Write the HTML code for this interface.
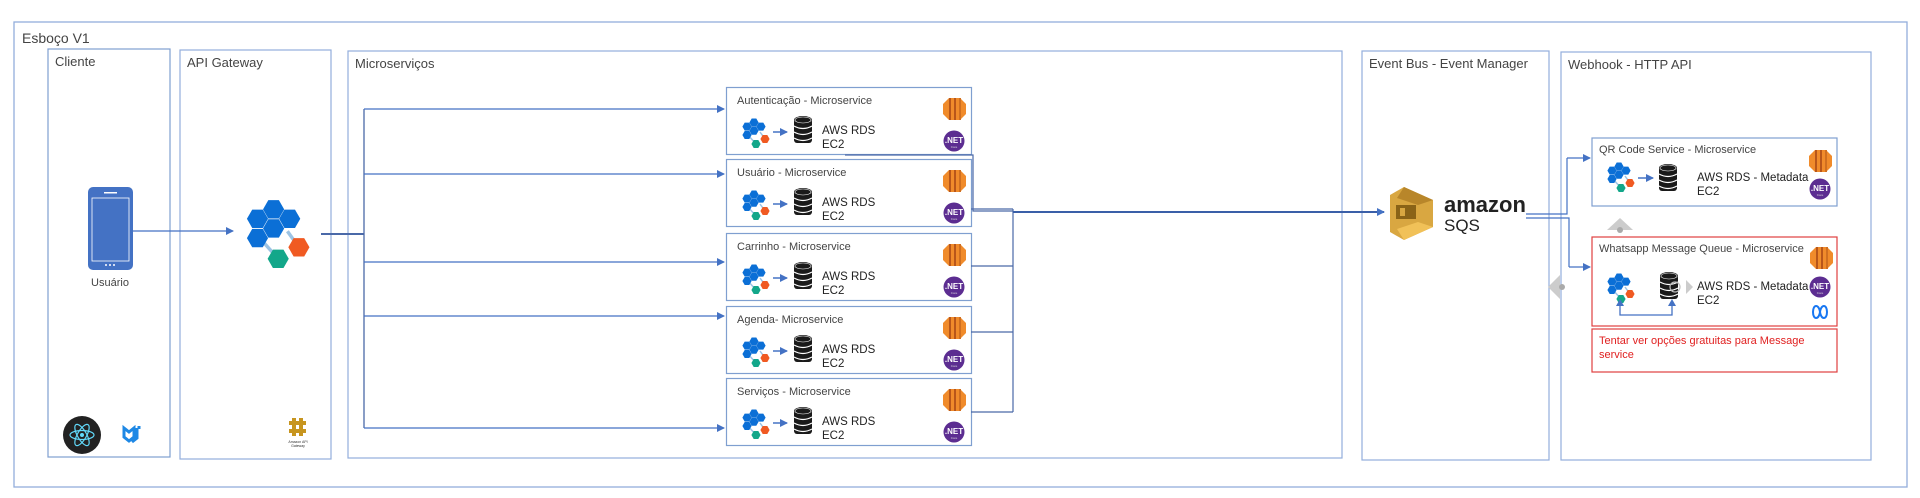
<!DOCTYPE html>
<html><head><meta charset="utf-8"><style>
html,body{margin:0;padding:0;background:#fff;width:1920px;height:498px;overflow:hidden}
svg{display:block}
text{font-family:"Liberation Sans",sans-serif;fill:#444}
</style></head><body>
<svg width="1920" height="498" viewBox="0 0 1920 498" xmlns="http://www.w3.org/2000/svg">
<defs>
<marker id="ar" markerWidth="8" markerHeight="8" refX="7" refY="4" orient="auto" markerUnits="userSpaceOnUse"><path d="M0,0 L8,4 L0,8 z" fill="#4472c4"/></marker>
<polygon id="hx" points="4.6,0 2.3,4 -2.3,4 -4.6,0 -2.3,-4 2.3,-4"/>
<g id="hex">
 <line x1="6" y1="17" x2="14" y2="26" stroke="#9cc3e4" stroke-width="1.5"/>
 <line x1="18" y1="14" x2="23" y2="21" stroke="#9cc3e4" stroke-width="1.5"/>
 <use href="#hx" x="12" y="4.5" fill="#0b6fd6"/>
 <use href="#hx" x="5" y="8.6" fill="#0b6fd6"/>
 <use href="#hx" x="19" y="8.6" fill="#0b6fd6"/>
 <use href="#hx" x="12" y="12.8" fill="#0b6fd6"/>
 <use href="#hx" x="5" y="17" fill="#0b6fd6"/>
 <use href="#hx" x="23" y="21" fill="#f05a22"/>
 <use href="#hx" x="14" y="26" fill="#13a78a"/>
</g>
<g id="db">
 <rect x="0" y="3" width="18" height="24" rx="3" fill="#1a1a1a"/>
 <ellipse cx="9" cy="4" rx="9" ry="4" fill="#1a1a1a"/>
 <path d="M0,10 q9,5 18,0 M0,16 q9,5 18,0 M0,22 q9,5 18,0" stroke="#fff" stroke-width="1.2" fill="none"/>
 <ellipse cx="9" cy="4" rx="8" ry="3" fill="none" stroke="#fff" stroke-width="0.6"/>
</g>
<g id="ec2">
 <polygon points="6,0 17,0 23,6 23,16 17,22 6,22 0,16 0,6" fill="#f08b2b"/>
 <rect x="6" y="0" width="2" height="22" fill="#b8561a"/>
 <rect x="11" y="0" width="2" height="22" fill="#b8561a"/>
 <rect x="16" y="0" width="2" height="22" fill="#d06f20"/>
</g>
<g id="net">
 <circle cx="0" cy="0" r="10.5" fill="#5c2d91"/>
 <text x="0" y="2" text-anchor="middle" style="font-size:8px;fill:#fff;font-weight:bold">.NET</text>
 <text x="0" y="7" text-anchor="middle" style="font-size:3px;fill:#ddd">Core</text>
</g>
<g id="ms">
 <rect x="0.5" y="0.5" width="245" height="67" fill="#fff" stroke="#7f9fd0" stroke-width="1.2"/>
 <use href="#hex" x="16" y="31"/>
 <line x1="47" y1="45" x2="61" y2="45" stroke="#4472c4" stroke-width="1.5" marker-end="url(#ar)"/>
 <use href="#db" x="68" y="29"/>
 <text x="96" y="47" style="font-size:11.5px;fill:#222">AWS RDS</text>
 <text x="96" y="61" style="font-size:11.5px;fill:#222">EC2</text>
 <use href="#ec2" x="217" y="11"/>
 <use href="#net" x="228" y="54"/>
</g>
</defs>

<rect x="14" y="22" width="1893" height="465" fill="none" stroke="#93aedc" stroke-width="1.3"/>
<text x="22" y="43" style="font-size:14px">Esboço V1</text>

<rect x="48" y="49" width="122" height="408" fill="none" stroke="#7f9fd0" stroke-width="1.2"/>
<text x="55" y="66" style="font-size:13px">Cliente</text>
<rect x="180" y="50" width="151" height="409" fill="none" stroke="#93aedc" stroke-width="1.2"/>
<text x="187" y="67" style="font-size:13px">API Gateway</text>
<rect x="348" y="51" width="994" height="407" fill="none" stroke="#93aedc" stroke-width="1.2"/>
<text x="355" y="68" style="font-size:13px">Microserviços</text>
<rect x="1362" y="51" width="187" height="409" fill="none" stroke="#93aedc" stroke-width="1.2"/>
<text x="1369" y="68" style="font-size:13px">Event Bus - Event Manager</text>
<rect x="1561" y="52" width="310" height="408" fill="none" stroke="#93aedc" stroke-width="1.2"/>
<text x="1568" y="69" style="font-size:13px">Webhook - HTTP API</text>

<rect x="88" y="187" width="45" height="83" rx="5" fill="#4472c4"/>
<rect x="92" y="198" width="37" height="63" fill="#4472c4" stroke="#fff" stroke-width="0.8"/>
<rect x="104" y="192" width="13" height="1.5" fill="#fff"/>
<circle cx="106" cy="265" r="1" fill="#fff"/><circle cx="110" cy="265" r="1" fill="#fff"/><circle cx="114" cy="265" r="1" fill="#fff"/>
<text x="110" y="286" text-anchor="middle" style="font-size:11px">Usuário</text>
<line x1="133" y1="231" x2="233" y2="231" stroke="#4472c4" stroke-width="1.3" marker-end="url(#ar)"/>

<g transform="translate(246,199) scale(2.3)"><use href="#hex"/></g>
<line x1="321" y1="234" x2="364" y2="234" stroke="#4a69a8" stroke-width="2"/>
<line x1="364" y1="109" x2="364" y2="428" stroke="#4a69a8" stroke-width="1.3"/>
<line x1="364" y1="109" x2="724" y2="109" stroke="#4472c4" stroke-width="1.2" marker-end="url(#ar)"/>
<line x1="364" y1="174" x2="724" y2="174" stroke="#4472c4" stroke-width="1.2" marker-end="url(#ar)"/>
<line x1="364" y1="262" x2="724" y2="262" stroke="#4472c4" stroke-width="1.2" marker-end="url(#ar)"/>
<line x1="364" y1="316" x2="724" y2="316" stroke="#4472c4" stroke-width="1.2" marker-end="url(#ar)"/>
<line x1="364" y1="428" x2="724" y2="428" stroke="#4472c4" stroke-width="1.2" marker-end="url(#ar)"/>

<circle cx="82" cy="435" r="19" fill="#222"/>
<g stroke="#61dafb" stroke-width="1.2" fill="none">
<ellipse cx="82" cy="435" rx="12" ry="4.5"/>
<ellipse cx="82" cy="435" rx="12" ry="4.5" transform="rotate(60 82 435)"/>
<ellipse cx="82" cy="435" rx="12" ry="4.5" transform="rotate(-60 82 435)"/>
</g>
<circle cx="82" cy="435" r="2" fill="#61dafb"/>
<path d="M124,428 l5,4 l5,-4 v9 l-5,4 l-5,-4 z M137,428 v10 l-5,4 M139,426 v3" stroke="#1e88e5" stroke-width="3" fill="none"/>
<g fill="#c7951f"><rect x="292" y="418" width="4" height="18"/><rect x="299" y="418" width="4" height="18"/><rect x="289" y="421" width="17" height="4"/><rect x="289" y="429" width="17" height="4"/></g>
<text x="298" y="443" text-anchor="middle" style="font-size:3.5px;fill:#333">Amazon API</text>
<text x="298" y="447" text-anchor="middle" style="font-size:3.5px;fill:#333">Gateway</text>

<use href="#ms" x="726" y="87"/>
<text x="737" y="104" style="font-size:11px">Autenticação - Microservice</text>
<use href="#ms" x="726" y="159"/>
<text x="737" y="176" style="font-size:11px">Usuário - Microservice</text>
<use href="#ms" x="726" y="233"/>
<text x="737" y="250" style="font-size:11px">Carrinho - Microservice</text>
<use href="#ms" x="726" y="306"/>
<text x="737" y="323" style="font-size:11px">Agenda- Microservice</text>
<use href="#ms" x="726" y="378"/>
<text x="737" y="395" style="font-size:11px">Serviços - Microservice</text>

<g stroke="#4a69a8" stroke-width="1.2" fill="none">
<polyline points="845,155 973,155 973,211 1013,211"/>
<polyline points="971,209 1013,209"/>
<line x1="1013" y1="209" x2="1013" y2="412"/>
<line x1="971" y1="266" x2="1013" y2="266"/>
<line x1="971" y1="332" x2="1013" y2="332"/>
<line x1="971" y1="412" x2="1013" y2="412"/>
</g>
<line x1="1013" y1="212" x2="1384" y2="212" stroke="#3a5fa8" stroke-width="2" marker-end="url(#ar)"/>

<polygon points="1404,187 1433,200 1433,227 1404,240 1390,232 1390,195" fill="#d9a741"/>
<polygon points="1404,187 1433,200 1418,205 1397,198" fill="#b8862a"/>
<rect x="1396" y="205" width="20" height="14" fill="#8a6317"/>
<rect x="1400" y="208" width="5" height="8" fill="#d9a741"/>
<polygon points="1397,229 1418,222 1433,227 1404,240" fill="#f1c158"/>
<text x="1444" y="212" style="font-size:22px;font-weight:bold;fill:#222">amazon</text>
<text x="1444" y="231" style="font-size:17px;fill:#222">SQS</text>

<g stroke="#4472c4" stroke-width="1.2" fill="none">
<polyline points="1526,214 1567,214 1567,158"/>
<polyline points="1526,218 1569,218 1569,267"/>
</g>
<line x1="1567" y1="158" x2="1590" y2="158" stroke="#4472c4" stroke-width="1.2" marker-end="url(#ar)"/>
<line x1="1569" y1="267" x2="1590" y2="267" stroke="#4472c4" stroke-width="1.2" marker-end="url(#ar)"/>

<rect x="1592" y="138" width="245" height="68" fill="#fff" stroke="#7f9fd0" stroke-width="1.2"/>
<text x="1599" y="153" style="font-size:11px">QR Code Service - Microservice</text>
<use href="#hex" x="1607" y="162"/>
<line x1="1638" y1="178" x2="1653" y2="178" stroke="#4472c4" stroke-width="1.5" marker-end="url(#ar)"/>
<use href="#db" x="1659" y="164"/>
<text x="1697" y="181" style="font-size:11.5px;fill:#222">AWS RDS - Metadata</text>
<text x="1697" y="195" style="font-size:11.5px;fill:#222">EC2</text>
<use href="#ec2" x="1809" y="150"/>
<use href="#net" x="1820" y="189"/>

<polygon points="1620,218 1633,230 1607,230" fill="#ccc"/><circle cx="1620" cy="230" r="3" fill="#aaa"/>
<polygon points="1548,287 1560,275 1560,299" fill="#ccc"/><circle cx="1562" cy="287" r="3" fill="#aaa"/>

<rect x="1592" y="237" width="245" height="89" fill="#fff" stroke="#e04040" stroke-width="1.2"/>
<text x="1599" y="252" style="font-size:11px">Whatsapp Message Queue - Microservice</text>
<use href="#hex" x="1607" y="273"/>
<use href="#db" x="1660" y="272"/>
<circle cx="1675" cy="287" r="5" fill="none" stroke="#bbb" stroke-width="1.2"/>
<polygon points="1686,280 1693,287 1686,294" fill="#ccc"/>
<text x="1697" y="290" style="font-size:11.5px;fill:#222">AWS RDS - Metadata</text>
<text x="1697" y="304" style="font-size:11.5px;fill:#222">EC2</text>
<polyline points="1620,305 1620,315 1672,315 1672,305" fill="none" stroke="#4472c4" stroke-width="1.3"/>
<polygon points="1616,306 1620,299 1624,306" fill="#4472c4"/>
<polygon points="1668,306 1672,299 1676,306" fill="#4472c4"/>
<use href="#ec2" x="1810" y="247"/>
<use href="#net" x="1820" y="287"/>
<path d="M1813,312 c0,-8 6,-8 7,0 c1,8 7,8 7,0 c0,-8 -6,-8 -7,0 c-1,8 -7,8 -7,0 z" fill="none" stroke="#1877f2" stroke-width="2"/>

<rect x="1592" y="329" width="245" height="43" fill="#fff" stroke="#e04040" stroke-width="1.2"/>
<text x="1599" y="344" style="font-size:11px;fill:#e02020">Tentar ver opções gratuitas para Message</text>
<text x="1599" y="358" style="font-size:11px;fill:#e02020">service</text>
</svg>
</body></html>
